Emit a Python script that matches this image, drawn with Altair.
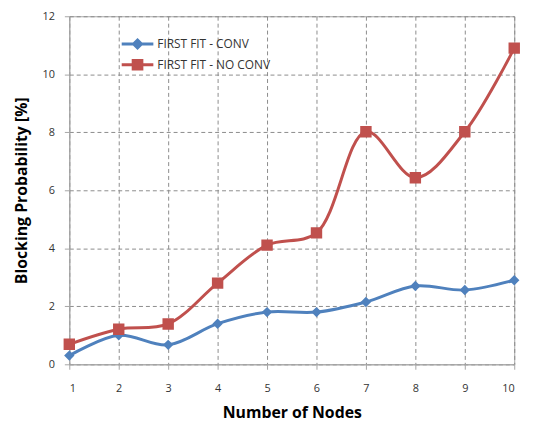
import altair as alt
import pandas as pd

nodes = [1, 2, 3, 4, 5, 6, 7, 8, 9, 10]
conv = [0.30, 1.00, 0.67, 1.40, 1.80, 1.80, 2.15, 2.70, 2.56, 2.90]
noconv = [0.69, 1.21, 1.39, 2.80, 4.11, 4.53, 8.02, 6.43, 8.02, 10.90]
series_names = ["FIRST FIT - CONV", "FIRST FIT - NO CONV"]
colors = ["#4F81BD", "#C0504D"]
y_ticks = [0, 2, 4, 6, 8, 10, 12]

rows = []
for name, vals in zip(series_names, [conv, noconv]):
    for n, v in zip(nodes, vals):
        rows.append({"nodes": n, "value": v, "series": name})
df = pd.DataFrame(rows)

shapes = [
    "M-4,0H4M0,-1L1,0L0,1L-1,0Z",
    "M-4,0H4M-1.1,-1.1H1.1V1.1H-1.1Z",
]

x = alt.X("nodes:Q", scale=alt.Scale(domain=[1, 10], nice=False),
          axis=alt.Axis(title="Number of Nodes", values=nodes, format="d",
                        grid=True, gridDash=[4, 3], gridColor="#8c8c8c",
                        tickSize=5, labelPadding=14, titlePadding=11))
y = alt.Y("value:Q", scale=alt.Scale(domain=[0, 12], nice=False),
          axis=alt.Axis(title="Blocking Probability  [%]", values=y_ticks,
                        grid=True, gridDash=[4, 3], gridColor="#8c8c8c",
                        tickSize=5, labelPadding=10, titlePadding=13))
color = alt.Color("series:N", scale=alt.Scale(domain=series_names, range=colors),
                  legend=alt.Legend(title=None, orient="none", legendX=63, legendY=22,
                                    labelFontSize=12, labelColor="#333333",
                                    labelFont="Open Sans", symbolSize=64,
                                    symbolStrokeWidth=3, rowPadding=0,
                                    labelOffset=14))

line = alt.Chart(df).mark_line(interpolate="catmull-rom", strokeWidth=3).encode(
    x=x, y=y, color=color)
pts = alt.Chart(df).mark_point(filled=True, size=110, opacity=1, strokeWidth=0).encode(
    x=x, y=y, color=color,
    shape=alt.Shape("series:N", scale=alt.Scale(domain=series_names, range=shapes), legend=None))

chart = alt.layer(line, pts).properties(
    width=450, height=352,
    padding={"left": 5, "top": 0, "right": 0, "bottom": 0}
).configure_view(
    stroke="#a6a6a6", strokeWidth=1
).configure_axis(
    domainColor="#a6a6a6", tickColor="#a6a6a6", labelFont="Open Sans",
    labelFontSize=11, labelColor="#333333", titleFont="Open Sans",
    titleFontSize=16, titleFontWeight="bold", titleColor="#000000"
)

chart.save("out.html", embed_options={"renderer": "svg", "actions": False})
